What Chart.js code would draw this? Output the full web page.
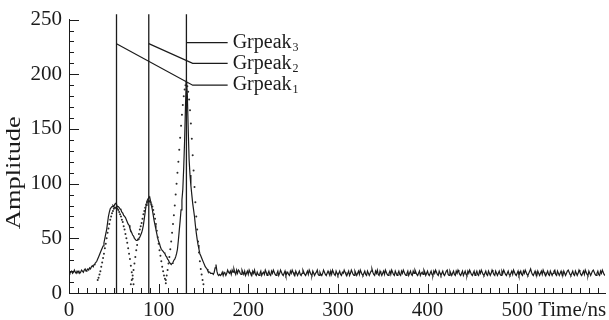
<!DOCTYPE html>
<html>
<head>
<meta charset="utf-8">
<script src="https://cdn.jsdelivr.net/npm/chart.js@4.4.1/dist/chart.umd.min.js"></script>
<style>
  html, body { margin: 0; padding: 0; background: #fff; }
  #wave { display: block; }
</style>
</head>
<body>
<canvas id="wave" width="609" height="320"></canvas>
<script>
// --- DATA ---
const sampleStep = 1; // ns between samples

// recorded waveform, 0..598 ns
const waveValues = [
  19,18,19,20,18,19,21,19,18,20,
  19,20,18,19,21,20,19,21,22,20,
  21,22,21,23,22,24,25,24,26,27,
  28,29,31,33,35,37,39,41,43,46,
  50,54,58,64,70,74,77,78,79,80,
  79,81,82,81,79,79,78,77,76,74,
  73,71,70,69,67,65,63,62,59,57,
  55,53,52,50,49,48,48,49,50,51,
  53,55,58,62,68,74,80,84,86,87,
  88,84,80,76,71,66,62,58,54,50,
  47,45,42,40,39,38,37,36,34,33,
  31,30,28,27,26,27,28,30,31,33,
  36,40,48,57,66,76,85,95,115,140,
  172,195,182,150,122,108,98,90,82,76,
  70,62,55,49,44,40,36,34,32,30,
  28,26,24,23,22,20,19,19,18,18,
  18,17,19,23,26,20,17,16,17,16,
  17,19,16,19,18,16,18,21,19,18,
  20,17,21,19,22,19,17,21,18,21,
  20,18,17,21,19,17,20,16,18,20,
  17,21,19,17,16,20,18,21,17,16,
  19,17,16,18,20,16,18,19,17,21,
  19,16,18,20,17,16,20,18,21,19,
  17,16,18,20,16,18,21,19,17,16,
  18,20,16,18,19,17,16,20,18,21,
  19,17,16,20,18,16,18,20,17,16,
  18,21,19,17,16,18,20,17,21,19,
  17,16,20,18,16,18,19,21,17,16,
  19,17,16,18,21,19,17,16,18,20,
  18,16,20,17,21,19,17,16,20,18,
  16,18,20,17,16,19,18,21,19,17,
  16,18,20,16,18,21,19,17,16,20,
  18,16,18,20,17,21,19,17,16,18,
  20,17,16,20,18,16,18,20,22,19,
  17,16,20,18,21,17,16,20,18,16,
  18,20,17,21,19,17,16,18,20,17,
  21,19,17,16,20,18,16,18,20,17,
  16,20,18,21,19,17,16,18,20,16,
  18,20,17,16,20,18,21,19,17,16,
  18,20,16,18,19,17,21,19,16,18,
  20,17,16,18,20,17,16,20,18,21,
  19,17,16,20,18,16,18,20,17,16,
  18,20,21,17,16,20,18,16,18,20,
  17,16,20,18,21,19,17,16,18,20,
  16,18,20,17,16,20,18,21,19,17,
  16,18,20,16,18,20,17,16,20,18,
  21,19,17,16,18,20,17,16,20,18,
  16,18,21,19,17,16,20,18,16,18,
  20,17,16,20,18,21,19,17,16,18,
  20,17,16,18,20,17,21,19,17,16,
  18,20,16,18,20,17,16,20,18,21,
  19,17,16,18,20,22,19,17,16,18,
  20,17,16,20,18,16,18,20,17,21,
  19,17,16,18,20,17,16,20,18,16,
  18,20,21,17,16,20,18,16,18,20,
  17,16,20,18,16,18,20,21,19,17,
  16,18,20,17,16,20,18,16,18,21,
  19,17,16,18,20,17,21,19,17,16,
  20,18,16,18,20,21,19,17,16,18,
  20,17,16,20,18,21,19,17,16
];

// fitted gaussian components (dotted)
const comp1Start = 32;
const comp1Values = [12,14,17,20,24,28,32,36,41,45,50,55,59,63,67,70,73,75,77,78,78,
  78,77,76,74,72,70,67,65,61,58,54,50,46,41,36,31,25,19,13,8];
const comp2Start = 69;
const comp2Values = [8,12,16,21,27,33,39,44,49,54,58,61,64,68,72,75,78,81,83,84,84,
  84,83,81,79,76,72,68,63,57,51,45,39,34,29,24,20,16,13,9];
const comp3Start = 108;
const comp3Values = [12,16,21,27,33,40,47,55,63,71,80,90,100,110,120,131,142,153,163,172,180,186,190,192,
  189,184,177,167,155,141,126,112,97,83,70,58,47,37,29,22,17,12,8];

// peak markers
const peakTimes = [53, 89, 131];
const markerTop = 255;
const peakNames = ['Grpeak', 'Grpeak', 'Grpeak'];
const peakSubs = ['1', '2', '3'];
const leaderStart = [228, 228, 229];     // amplitude where the leader leaves the marker
const leaderBendX = [138, 138, 131];     // time of the bend
const leaderLevel = [190, 210, 229];     // amplitude of the horizontal part
const leaderEndX = 177;

const xTicks = [0, 100, 200, 300, 400, 500];
const yTicks = [0, 50, 100, 150, 200, 250];
const xMax = 598;
const yMax = 250;
const xUnit = 'Time/ns';
const yTitle = 'Amplitude';

// --- STYLE ---
const ink = '#1b1b1b';
const serif = "'Liberation Serif', 'Times New Roman', serif";

const toPoints = (start, vals) => vals.map((v, i) => ({ x: start + i * sampleStep, y: v }));

const datasets = [];

peakTimes.forEach(t => {
  datasets.push({
    data: [{ x: t, y: 0 }, { x: t, y: markerTop }],
    borderColor: ink, borderWidth: 1.3, pointRadius: 0, clip: false
  });
});

peakTimes.forEach((t, i) => {
  const pts = [{ x: t, y: leaderStart[i] }];
  if (leaderBendX[i] !== t) pts.push({ x: leaderBendX[i], y: leaderLevel[i] });
  pts.push({ x: leaderEndX, y: leaderLevel[i] });
  datasets.push({ data: pts, borderColor: ink, borderWidth: 1.2, pointRadius: 0, clip: false });
});

[[comp1Start, comp1Values], [comp2Start, comp2Values], [comp3Start, comp3Values]].forEach(([s, v]) => {
  datasets.push({
    data: toPoints(s, v), showLine: false,
    pointRadius: 1, pointBorderWidth: 0, pointBackgroundColor: '#2a2a2a'
  });
});

datasets.push({
  data: toPoints(0, waveValues),
  borderColor: ink, borderWidth: 1.2, pointRadius: 0, tension: 0
});

// inward ticks, axis texts and peak labels
const decorPlugin = {
  id: 'decor',
  afterDraw(chart) {
    const { ctx, chartArea: a, scales: { x, y } } = chart;
    ctx.save();
    ctx.strokeStyle = ink;
    ctx.lineWidth = 1;
    ctx.beginPath();
    for (let v = 0; v <= xMax; v += 10) {
      const px = Math.round(x.getPixelForValue(v)) + 0.5;
      const len = v % 100 === 0 ? 9 : 5;
      ctx.moveTo(px, a.bottom);
      ctx.lineTo(px, a.bottom - len);
    }
    for (let v = 0; v <= yMax; v += 10) {
      const py = Math.round(y.getPixelForValue(v)) + 0.5;
      const len = v % 50 === 0 ? 10 : 5;
      ctx.moveTo(a.left, py);
      ctx.lineTo(a.left + len, py);
    }
    ctx.stroke();

    ctx.fillStyle = ink;
    ctx.font = '21px ' + serif;
    ctx.textBaseline = 'middle';
    ctx.textAlign = 'left';
    ctx.fillText(xUnit, x.getPixelForValue(500) + 21, a.bottom + 17);

    // y title, a little stretched along its length like the figure
    ctx.save();
    ctx.translate(14, y.getPixelForValue(110));
    ctx.rotate(-Math.PI / 2);
    ctx.scale(1.2, 1);
    ctx.textAlign = 'center';
    ctx.font = '22px ' + serif;
    ctx.fillText(yTitle, 0, 0);
    ctx.restore();

    peakNames.forEach((name, i) => {
      const tx = x.getPixelForValue(leaderEndX) + 5;
      const ty = y.getPixelForValue(leaderLevel[i]);
      ctx.font = '20px ' + serif;
      ctx.fillText(name, tx, ty);
      const w = ctx.measureText(name).width;
      ctx.font = '12px ' + serif;
      ctx.fillText(peakSubs[i], tx + w + 1, ty + 5);
    });
    ctx.restore();
  }
};

new Chart(document.getElementById('wave'), {
  type: 'line',
  data: { datasets },
  options: {
    responsive: false,
    animation: false,
    events: [],
    layout: { padding: { top: 16, right: 2, left: 0, bottom: 0 } },
    plugins: { legend: { display: false }, tooltip: { enabled: false } },
    scales: {
      x: {
        type: 'linear', min: 0, max: xMax,
        afterBuildTicks: s => { s.ticks = xTicks.map(v => ({ value: v })); },
        afterFit: s => { s.height = 27; },
        grid: { drawOnChartArea: false, drawTicks: false },
        border: { color: ink, width: 1 },
        ticks: { color: ink, padding: 5, maxRotation: 0, font: { family: serif, size: 21 } }
      },
      y: {
        type: 'linear', min: 0, max: yMax,
        afterBuildTicks: s => { s.ticks = yTicks.map(v => ({ value: v })); },
        afterFit: s => { s.width = 69; },
        grid: { drawOnChartArea: false, drawTicks: false },
        border: { color: ink, width: 1 },
        ticks: { color: ink, padding: 7, font: { family: serif, size: 21 } }
      }
    }
  },
  plugins: [decorPlugin]
});
</script>
</body>
</html>
